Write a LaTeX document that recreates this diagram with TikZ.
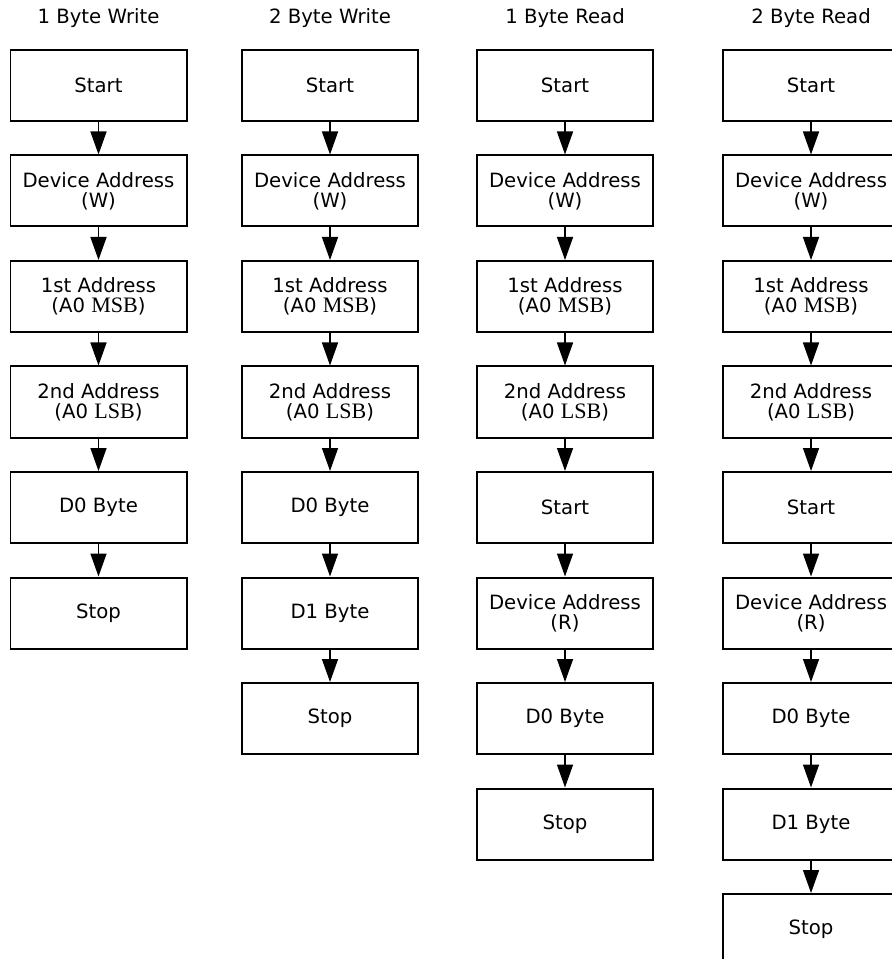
\documentclass[tikz,border=0pt]{standalone}
\usepackage{fontspec}
\setmainfont{DejaVu Sans}
\newfontfamily\serifpart[Scale=1.12]{Liberation Serif}
\usepackage{tikz}
\usetikzlibrary{shapes,arrows.meta,positioning}
\tikzstyle{block} = [rectangle,draw,line width=0.04cm,minimum width=3.52cm,
  minimum height=1.42cm,align=center,font=\fontsize{11.2}{11.4}\selectfont]
\tikzstyle{title} = [font=\fontsize{11.2}{11.4}\selectfont]
\tikzstyle{line} = [draw, line width=0.03cm, -{Triangle[length=0.46cm,width=0.32cm]}]

\begin{document}
\begin{tikzpicture}[node distance = 2.11cm, auto]
\useasboundingbox (0,0) rectangle (17.82,-19.18);

\node [title] (write1_title) at (1.97,-0.36) {1 Byte Write};
\node [title] (write2_title) at (6.60,-0.36) {2 Byte Write};
\node [title] (read1_title) at (11.30,-0.36) {1 Byte Read};
\node [title] (read2_title) at (16.22,-0.36) {2 Byte Read};

% 1 Byte Write
\node [block, below of=write1_title, node distance=1.35cm] (write1_start) {Start};
\node [block, below of=write1_start] (write1_dev) {Device Address\\(W)};
\node [block, below of=write1_dev] (write1_msb) {1st Address\\(A0 {\serifpart MSB})};
\node [block, below of=write1_msb] (write1_lsb) {2nd Address\\(A0 {\serifpart LSB})};
\node [block, below of=write1_lsb] (write1_d0) {D0 Byte};
\node [block, below of=write1_d0] (write1_stop) {Stop};

\path [line] (write1_start) -- (write1_dev);
\path [line] (write1_dev) -- (write1_msb);
\path [line] (write1_msb) -- (write1_lsb);
\path [line] (write1_lsb) -- (write1_d0);
\path [line] (write1_d0) -- (write1_stop);

% 2 Byte Write
\node [block, below of=write2_title, node distance=1.35cm] (write2_start) {Start};
\node [block, below of=write2_start] (write2_dev) {Device Address\\(W)};
\node [block, below of=write2_dev] (write2_msb) {1st Address\\(A0 {\serifpart MSB})};
\node [block, below of=write2_msb] (write2_lsb) {2nd Address\\(A0 {\serifpart LSB})};
\node [block, below of=write2_lsb] (write2_d0) {D0 Byte};
\node [block, below of=write2_d0] (write2_d1) {D1 Byte};
\node [block, below of=write2_d1] (write2_stop) {Stop};

\path [line] (write2_start) -- (write2_dev);
\path [line] (write2_dev) -- (write2_msb);
\path [line] (write2_msb) -- (write2_lsb);
\path [line] (write2_lsb) -- (write2_d0);
\path [line] (write2_d0) -- (write2_d1);
\path [line] (write2_d1) -- (write2_stop);

% 1 Byte Read
\node [block, below of=read1_title, node distance=1.35cm] (read1_start) {Start};
\node [block, below of=read1_start] (read1_dev) {Device Address\\(W)};
\node [block, below of=read1_dev] (read1_msb) {1st Address\\(A0 {\serifpart MSB})};
\node [block, below of=read1_msb] (read1_lsb) {2nd Address\\(A0 {\serifpart LSB})};
\node [block, below of=read1_lsb] (read1_restart) {Start};
\node [block, below of=read1_restart] (read1_devr) {Device Address\\(R)};
\node [block, below of=read1_devr] (read1_d0) {D0 Byte};
\node [block, below of=read1_d0] (read1_stop) {Stop};

\path [line] (read1_start) -- (read1_dev);
\path [line] (read1_dev) -- (read1_msb);
\path [line] (read1_msb) -- (read1_lsb);
\path [line] (read1_lsb) -- (read1_restart);
\path [line] (read1_restart) -- (read1_devr);
\path [line] (read1_devr) -- (read1_d0);
\path [line] (read1_d0) -- (read1_stop);

% 2 Byte Read
\node [block, below of=read2_title, node distance=1.35cm] (read2_start) {Start};
\node [block, below of=read2_start] (read2_dev) {Device Address\\(W)};
\node [block, below of=read2_dev] (read2_msb) {1st Address\\(A0 {\serifpart MSB})};
\node [block, below of=read2_msb] (read2_lsb) {2nd Address\\(A0 {\serifpart LSB})};
\node [block, below of=read2_lsb] (read2_restart) {Start};
\node [block, below of=read2_restart] (read2_devr) {Device Address\\(R)};
\node [block, below of=read2_devr] (read2_d0) {D0 Byte};
\node [block, below of=read2_d0] (read2_d1) {D1 Byte};
\node [block, below of=read2_d1] (read2_stop) {Stop};

\path [line] (read2_start) -- (read2_dev);
\path [line] (read2_dev) -- (read2_msb);
\path [line] (read2_msb) -- (read2_lsb);
\path [line] (read2_lsb) -- (read2_restart);
\path [line] (read2_restart) -- (read2_devr);
\path [line] (read2_devr) -- (read2_d0);
\path [line] (read2_d0) -- (read2_d1);
\path [line] (read2_d1) -- (read2_stop);

\end{tikzpicture}
\end{document}
